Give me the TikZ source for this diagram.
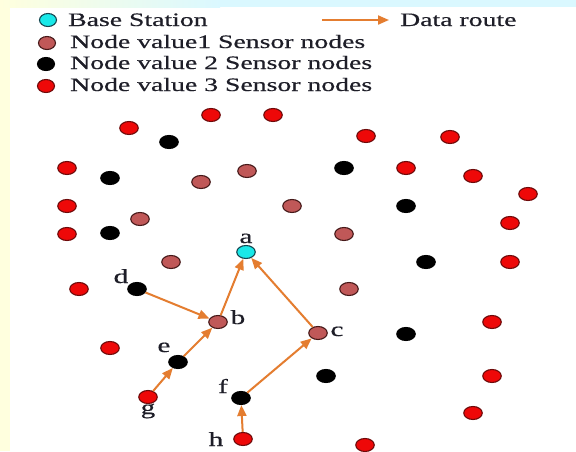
\documentclass[tikz,border=0pt]{standalone}
\usepackage{fontspec}
\setmainfont{Liberation Serif}[FakeStretch=1.46,FakeBold=0.5]
\usetikzlibrary{shapes.geometric,arrows.meta}
\definecolor{cyanN}{RGB}{25,232,232}
\definecolor{cyanD}{RGB}{20,70,80}
\definecolor{brownN}{RGB}{192,88,88}
\definecolor{brownD}{RGB}{70,25,25}
\definecolor{redN}{RGB}{238,8,8}
\definecolor{redD}{RGB}{110,10,10}
\definecolor{routeC}{RGB}{228,125,48}
\definecolor{stripY}{RGB}{255,255,222}
\definecolor{stripB}{RGB}{218,248,255}
\definecolor{textC}{RGB}{30,30,40}
\begin{document}
\begin{tikzpicture}[x=1pt,y=-1pt,
  dot/.style={ellipse,draw,line width=1.1pt,minimum width=18.5pt,minimum height=13pt,inner sep=0pt},
  bs/.style={dot,fill=cyanN,draw=cyanD},
  vone/.style={dot,fill=brownN,draw=brownD},
  vtwo/.style={dot,fill=black,draw=black},
  vthree/.style={dot,fill=redN,draw=redD},
  route/.style={draw=routeC,line width=2pt,-{Triangle[length=11pt,width=9pt]}},
  lbl/.style={font=\fontsize{20}{20}\selectfont,text=textC,inner sep=0pt,anchor=base},
  leg/.style={font=\fontsize{19}{20}\selectfont,text=textC,inner sep=0pt,anchor=base west}]
\useasboundingbox (0,0) rectangle (576,451);
\fill[white] (0,0) rectangle (576,451);
\fill[stripY] (0,0) rectangle (10,451);
\shade[left color=stripY,right color=stripB] (0,0) rectangle (220,7);
\fill[stripB] (219,0) rectangle (576,7);
% legend
\node[bs,minimum width=17pt] (l1) at (48,20) {};
\node[vone,minimum width=17pt] (l2) at (47,43) {};
\node[vtwo,minimum width=17pt] (l3) at (46,64) {};
\node[vthree,minimum width=17pt] (l4) at (46,86) {};
\node[leg] (t1) at (68,26) {Base Station};
\node[leg] (t2) at (70,48) {Node value1 Sensor nodes};
\node[leg] (t3) at (70,69) {Node value 2 Sensor nodes};
\node[leg] (t4) at (70,91) {Node value 3 Sensor nodes};
\coordinate (la1) at (322,20);
\coordinate (la2) at (389,20);
\draw[route] (la1) -- (la2);
\node[leg] (t5) at (400,26) {Data route};
% value 3 (red)
\foreach \p [count=\i] in {(129,128),(211,115),(273,115),(366,136),(450,137),(67,168),(406,168),(473,176),(528,194),(67,206),(510,223),(67,234),(510,262),(79,289),(110,348),(492,322),(492,376),(473,413),(365,445)}
  \node[vthree] (r\i) at \p {};
% value 2 (black)
\foreach \p [count=\i] in {(169,142),(344,168),(110,178),(406,206),(110,233),(426,262),(406,334),(326,376)}
  \node[vtwo] (k\i) at \p {};
% value 1 (brown)
\foreach \p [count=\i] in {(247,171),(201,182),(292,206),(140,219),(344,234),(171,262),(349,289)}
  \node[vone] (w\i) at \p {};
% route nodes
\node[bs] (a) at (246,252) {};
\node[vone] (b) at (218,322) {};
\node[vone] (c) at (318,333) {};
\node[vtwo] (d) at (137,289) {};
\node[vtwo] (e) at (178,362) {};
\node[vtwo] (f) at (241,398) {};
\node[vthree] (g) at (148,397) {};
\node[vthree] (h) at (243,439) {};
% labels
\node[lbl] (la) at (246,243) {a};
\node[lbl] (lb) at (238,324) {b};
\node[lbl] (lc) at (337,336) {c};
\node[lbl] (ld) at (121,283) {d};
\node[lbl] (le) at (164,352) {e};
\node[lbl] (lf) at (223,393) {f};
\node[lbl] (lg) at (148,414) {g};
\node[lbl] (lh) at (216,446) {h};
% routes
\draw[route] (d) -- (b);
\draw[route] (b) -- (a);
\draw[route] (c) -- (a);
\draw[route] (e) -- (b);
\draw[route] (g) -- (e);
\draw[route] (f) -- (c);
\draw[route] (h) -- (f);
\end{tikzpicture}
\end{document}
